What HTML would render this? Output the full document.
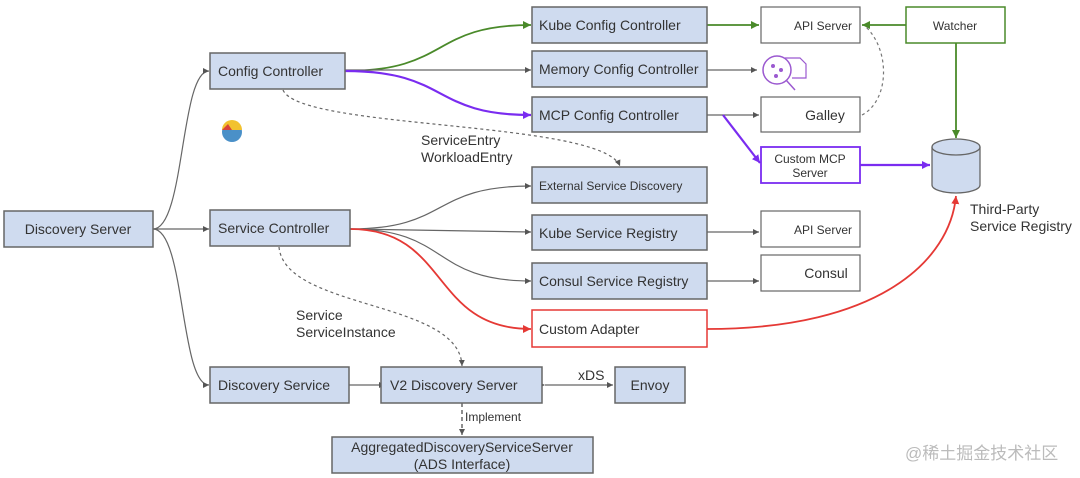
<!DOCTYPE html>
<html><head><meta charset="utf-8"><style>
html,body{margin:0;padding:0;background:#fff;}
svg{display:block;font-family:"Liberation Sans",Arial,sans-serif;}
.b{fill:#cfdbef;stroke:#666;stroke-width:1.5;}
.w{fill:#fff;stroke:#666;stroke-width:1.2;}
.t{font-size:14px;fill:#333;}
.s{font-size:12px;fill:#333;}
.g{fill:none;stroke:#666;stroke-width:1.2;}
</style></head><body>
<svg width="1080" height="478" viewBox="0 0 1080 478" xmlns="http://www.w3.org/2000/svg">
<defs>
<marker id="ag" markerWidth="8" markerHeight="8" refX="6" refY="3" orient="auto" markerUnits="userSpaceOnUse"><path d="M0,0 L6,3 L0,6z" fill="#555"/></marker>
<marker id="agr" markerWidth="10" markerHeight="10" refX="8" refY="4" orient="auto" markerUnits="userSpaceOnUse"><path d="M0,0 L8,4 L0,8z" fill="#4a8a2a"/></marker>
<marker id="ap" markerWidth="10" markerHeight="10" refX="8" refY="4" orient="auto" markerUnits="userSpaceOnUse"><path d="M0,0 L8,4 L0,8z" fill="#7a2cf0"/></marker>
<marker id="ar" markerWidth="10" markerHeight="10" refX="8" refY="4" orient="auto" markerUnits="userSpaceOnUse"><path d="M0,0 L8,4 L0,8z" fill="#e53935"/></marker>
</defs>

<path class="g" d="M153,229 C185,229 180,71 209,71" marker-end="url(#ag)"/>
<path class="g" d="M153,229 L209,229" marker-end="url(#ag)"/>
<path class="g" d="M153,229 C185,229 180,385 209,385" marker-end="url(#ag)"/>

<path d="M345,71 C450,71 430,25 531,25" fill="none" stroke="#4a8a2a" stroke-width="1.8" marker-end="url(#agr)"/>
<path class="g" d="M345,70 L531,70" marker-end="url(#ag)"/>
<path d="M345,71 C450,71 430,115 531,115" fill="none" stroke="#7a2cf0" stroke-width="2.2" marker-end="url(#ap)"/>
<path d="M283,90 C300,130 600,120 620,166" fill="none" stroke="#666" stroke-width="1.2" stroke-dasharray="3,3" marker-end="url(#ag)"/>

<path class="g" d="M350,229 C450,229 430,186 531,186" marker-end="url(#ag)"/>
<path class="g" d="M350,229 L531,232" marker-end="url(#ag)"/>
<path class="g" d="M350,229 C450,229 430,281 531,281" marker-end="url(#ag)"/>
<path d="M350,229 C450,229 430,329 531,329" fill="none" stroke="#e53935" stroke-width="1.8" marker-end="url(#ar)"/>
<path d="M279,247 C285,310 460,300 462,366" fill="none" stroke="#666" stroke-width="1.2" stroke-dasharray="3,3" marker-end="url(#ag)"/>

<path d="M707,25 L759,25" fill="none" stroke="#4a8a2a" stroke-width="1.8" marker-end="url(#agr)"/>
<path d="M906,25 L862,25" fill="none" stroke="#4a8a2a" stroke-width="1.8" marker-end="url(#agr)"/>
<path d="M956,43 L956,138" fill="none" stroke="#4a8a2a" stroke-width="1.8" marker-end="url(#agr)"/>
<path class="g" d="M707,70 L757,70" marker-end="url(#ag)"/>
<path class="g" d="M707,115 L759,115" marker-end="url(#ag)"/>
<path d="M862,115 C890,100 890,50 866,27" fill="none" stroke="#777" stroke-width="1.2" stroke-dasharray="3,3"/>
<path d="M723,115 L760,163" fill="none" stroke="#7a2cf0" stroke-width="2.2" marker-end="url(#ap)"/>
<path d="M860,165 L930,165" fill="none" stroke="#7a2cf0" stroke-width="2.2" marker-end="url(#ap)"/>
<path class="g" d="M707,232 L759,232" marker-end="url(#ag)"/>
<path class="g" d="M707,281 L759,281" marker-end="url(#ag)"/>
<path d="M707,329 C880,329 950,260 956,196" fill="none" stroke="#e53935" stroke-width="1.8" marker-end="url(#ar)"/>

<path class="g" d="M349,385 L385,385" marker-end="url(#ag)"/>
<path class="g" d="M545,385 L613,385" marker-end="url(#ag)" marker-start="url(#ag)"/>
<path d="M462,403 L462,435" fill="none" stroke="#444" stroke-width="1.2" stroke-dasharray="4,3" marker-end="url(#ag)"/>

<rect class="b" x="4" y="211" width="149" height="36"/><text class="t" x="78" y="234" text-anchor="middle">Discovery Server</text>
<rect class="b" x="210" y="53" width="135" height="36"/><text class="t" x="218" y="76">Config Controller</text>
<rect class="b" x="210" y="210" width="140" height="36"/><text class="t" x="218" y="233">Service Controller</text>
<rect class="b" x="210" y="367" width="139" height="36"/><text class="t" x="218" y="390">Discovery Service</text>
<rect class="b" x="532" y="7" width="175" height="36"/><text class="t" x="539" y="30">Kube Config Controller</text>
<rect class="b" x="532" y="51" width="175" height="36"/><text class="t" x="539" y="74">Memory Config Controller</text>
<rect class="b" x="532" y="97" width="175" height="35"/><text class="t" x="539" y="120">MCP Config Controller</text>
<rect class="b" x="532" y="167" width="175" height="36"/><text class="s" x="539" y="190">External Service Discovery</text>
<rect class="b" x="532" y="215" width="175" height="35"/><text class="t" x="539" y="238">Kube Service Registry</text>
<rect class="b" x="532" y="263" width="175" height="36"/><text class="t" x="539" y="286">Consul Service Registry</text>
<rect x="532" y="310" width="175" height="37" fill="#fff" stroke="#e53935" stroke-width="1.5"/><text class="t" x="539" y="334">Custom Adapter</text>
<rect class="b" x="381" y="367" width="161" height="36"/><text class="t" x="390" y="390">V2 Discovery Server</text>
<rect class="b" x="615" y="367" width="70" height="36"/><text class="t" x="650" y="390" text-anchor="middle">Envoy</text>
<rect class="b" x="332" y="437" width="261" height="36"/><text class="t" x="462" y="452" text-anchor="middle">AggregatedDiscoveryServiceServer</text><text class="t" x="462" y="469" text-anchor="middle">(ADS Interface)</text>

<rect class="w" x="761" y="7" width="99" height="36"/><text class="s" x="823" y="30" text-anchor="middle" font-size="11">API Server</text>
<rect x="906" y="7" width="99" height="36" fill="#fff" stroke="#4a8a2a" stroke-width="1.5"/><text class="s" x="955" y="30" text-anchor="middle">Watcher</text>
<rect class="w" x="761" y="97" width="99" height="35"/><text class="t" x="825" y="120" text-anchor="middle">Galley</text>
<rect x="761" y="147" width="99" height="36" fill="#fff" stroke="#7a2cf0" stroke-width="1.8"/><text class="s" x="810" y="163" text-anchor="middle" font-size="11">Custom MCP</text><text class="s" x="810" y="177" text-anchor="middle" font-size="11">Server</text>
<rect class="w" x="761" y="211" width="99" height="36"/><text class="s" x="823" y="234" text-anchor="middle" font-size="11">API Server</text>
<rect class="w" x="761" y="255" width="99" height="36"/><text class="t" x="826" y="278" text-anchor="middle">Consul</text>

<circle cx="777" cy="70" r="14" fill="none" stroke="#9b59d0" stroke-width="1.5"/>
<path d="M786,80 L795,90" stroke="#9b59d0" stroke-width="1.5"/>
<path d="M785,58 L800,58 L806,64 L806,78 L792,78" fill="none" stroke="#9b59d0" stroke-width="1.2"/>
<circle cx="773" cy="66" r="2" fill="#9b59d0"/><circle cx="781" cy="70" r="2" fill="#9b59d0"/><circle cx="776" cy="76" r="2" fill="#9b59d0"/>

<path d="M932,147 L932,185 A24,8 0 0 0 980,185 L980,147" fill="#cfdbef" stroke="#666" stroke-width="1.3"/>
<ellipse cx="956" cy="147" rx="24" ry="8" fill="#cfdbef" stroke="#666" stroke-width="1.3"/>
<text class="t" x="970" y="214" font-size="13">Third-Party</text>
<text class="t" x="970" y="231" font-size="13">Service Registry</text>

<circle cx="232" cy="132" r="10" fill="#4a90c8"/>
<path d="M222,130 A10,10 0 0 1 242,130 Z" fill="#f2c230"/>
<path d="M222,130 L228,124 L232,130 Z" fill="#d9433a"/>

<text class="t" x="421" y="145" font-size="13">ServiceEntry</text>
<text class="t" x="421" y="162" font-size="13">WorkloadEntry</text>
<text class="t" x="296" y="320" font-size="13">Service</text>
<text class="t" x="296" y="337" font-size="13">ServiceInstance</text>
<text class="t" x="578" y="380" font-size="13">xDS</text>
<text class="s" x="465" y="421" font-size="10">Implement</text>
<text x="905" y="459" font-size="17" fill="#bbb" font-family="'Liberation Sans','Noto Sans CJK SC',sans-serif">@稀土掘金技术社区</text>
</svg>
</body></html>
